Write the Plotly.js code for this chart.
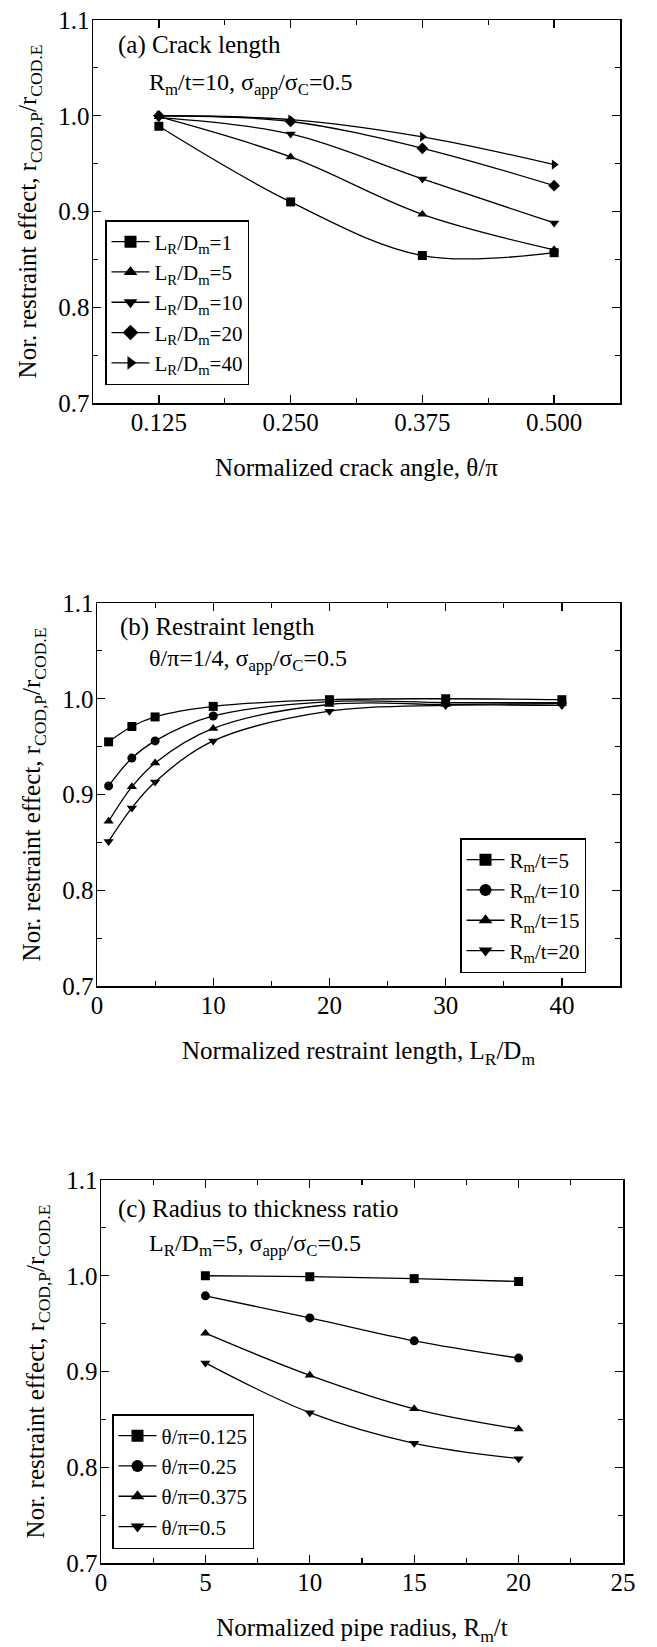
<!DOCTYPE html>
<html>
<head>
<meta charset="utf-8">
<script src="https://cdn.plot.ly/plotly-3.0.1.min.js"></script>
<style>
html,body{margin:0;padding:0;background:#fff;}
#chart{width:657px;height:1647px;}
</style>
</head>
<body>
<div id="chart"></div>
<script>
// ---------------- Panel (a): crack length ----------------
const crackAngle = [0.125, 0.25, 0.375, 0.5];
const aNames = ['L<sub>R</sub>/D<sub>m</sub>=1', 'L<sub>R</sub>/D<sub>m</sub>=5', 'L<sub>R</sub>/D<sub>m</sub>=10', 'L<sub>R</sub>/D<sub>m</sub>=20', 'L<sub>R</sub>/D<sub>m</sub>=40'];
const a_LR1  = [0.989, 0.910, 0.854, 0.857];
const a_LR5  = [0.999, 0.957, 0.897, 0.860];
const a_LR10 = [0.998, 0.981, 0.934, 0.888];
const a_LR20 = [1.000, 0.994, 0.966, 0.927];
const a_LR40 = [1.000, 0.996, 0.978, 0.949];

// ---------------- Panel (b): restraint length ----------------
const restraintLength = [1, 3, 5, 10, 20, 30, 40];
const bNames = ['R<sub>m</sub>/t=5', 'R<sub>m</sub>/t=10', 'R<sub>m</sub>/t=15', 'R<sub>m</sub>/t=20'];
const b_Rt5  = [0.955, 0.971, 0.981, 0.992, 0.999, 1.000, 0.999];
const b_Rt10 = [0.909, 0.938, 0.956, 0.982, 0.997, 0.996, 0.996];
const b_Rt15 = [0.872, 0.908, 0.933, 0.969, 0.994, 0.994, 0.995];
const b_Rt20 = [0.851, 0.886, 0.913, 0.956, 0.987, 0.993, 0.993];

// ---------------- Panel (c): radius to thickness ----------------
const pipeRadius = [5, 10, 15, 20];
const cNames = ['θ/π=0.125', 'θ/π=0.25', 'θ/π=0.375', 'θ/π=0.5'];
const c_th0125 = [1.000, 0.999, 0.997, 0.994];
const c_th025  = [0.979, 0.956, 0.932, 0.914];
const c_th0375 = [0.940, 0.896, 0.861, 0.840];
const c_th05   = [0.909, 0.857, 0.825, 0.809];

const FONT = 'Liberation Serif, "Times New Roman", Times, serif';
const W = 657, H = 1647;
const px = v => v / W;
const py = v => 1 - v / H;

function series(x, y, name, symbol, xa, ya, lg) {
  return [{
    type: 'scatter', mode: 'lines+markers', x: x, y: y, name: name,
    xaxis: xa, yaxis: ya, showlegend: false, hoverinfo: 'skip',
    line: {color: '#000', width: 1.3, shape: 'spline', smoothing: 1},
    marker: {symbol: symbol, size: 9, color: '#000', line: {width: 0}}
  }, {
    // legend sample (no data points of its own)
    type: 'scatter', mode: 'lines+markers', x: [null], y: [null], name: name,
    xaxis: xa, yaxis: ya, legend: lg, showlegend: true, hoverinfo: 'skip',
    line: {color: '#000', width: 1.3},
    marker: {symbol: symbol, size: 12, color: '#000', line: {width: 0}}
  }];
}

const aSyms = ['square', 'triangle-up', 'triangle-down', 'diamond', 'triangle-right'];
const aData = [a_LR1, a_LR5, a_LR10, a_LR20, a_LR40];
const bSyms = ['square', 'circle', 'triangle-up', 'triangle-down'];
const bData = [b_Rt5, b_Rt10, b_Rt15, b_Rt20];
const cSyms = ['square', 'circle', 'triangle-up', 'triangle-down'];
const cData = [c_th0125, c_th025, c_th0375, c_th05];

let data = [];
aData.forEach((y, i) => { data = data.concat(series(crackAngle, y, aNames[i], aSyms[i], 'x', 'y', 'legend')); });
bData.forEach((y, i) => { data = data.concat(series(restraintLength, y, bNames[i], bSyms[i], 'x2', 'y2', 'legend2')); });
cData.forEach((y, i) => { data = data.concat(series(pipeRadius, y, cNames[i], cSyms[i], 'x3', 'y3', 'legend3')); });

const tickFont = {family: FONT, size: 25, color: '#000'};
const titleFont = {family: FONT, size: 25, color: '#000'};

function xAxis(domain, range, tick0, dtick, minorDtick, fmt, title, anchor) {
  return {
    domain: domain, range: range, anchor: anchor, tick0: tick0, dtick: dtick, tickformat: fmt,
    showline: true, linecolor: '#000', linewidth: 1.5, mirror: 'allticks',
    ticks: 'inside', ticklen: 8, tickwidth: 1.3, tickcolor: '#000', ticklabelstandoff: -4,
    minor: {ticks: 'inside', ticklen: 5, tickwidth: 1.2, tickcolor: '#000', dtick: minorDtick, showgrid: false},
    showgrid: false, zeroline: false, tickfont: tickFont, fixedrange: true,
    title: {text: title, font: titleFont, standoff: 24}
  };
}
function yAxis(domain, anchor) {
  return {
    domain: domain, range: [0.7, 1.1], anchor: anchor, tick0: 0.7, dtick: 0.1, tickformat: '.1f',
    showline: true, linecolor: '#000', linewidth: 1.5, mirror: 'allticks',
    ticks: 'inside', ticklen: 8, tickwidth: 1.3, tickcolor: '#000', ticklabelstandoff: -3,
    minor: {ticks: 'inside', ticklen: 5, tickwidth: 1.2, tickcolor: '#000', dtick: 0.05, showgrid: false},
    showgrid: false, zeroline: false, tickfont: tickFont, fixedrange: true,
    title: {text: 'Nor. restraint effect, r<sub>COD,P</sub>/r<sub>COD.E</sub>', font: titleFont, standoff: 14}
  };
}

function legendBox(x, y, fs) {
  return {
    x: px(x), y: py(y), xref: 'paper', yref: 'paper', xanchor: 'left', yanchor: 'top',
    bgcolor: '#fff', bordercolor: '#000', borderwidth: 1.5, itemwidth: 38,
    font: {family: FONT, size: fs, color: '#000'}, itemclick: false, itemdoubleclick: false,
    traceorder: 'normal', tracegroupgap: 0
  };
}

function ann(text, x, y, size) {
  return {text: text, x: px(x), y: py(y), xref: 'paper', yref: 'paper', xanchor: 'left', yanchor: 'middle',
          showarrow: false, font: {family: FONT, size: size, color: '#000'}};
}

const layout = {
  width: W, height: H, margin: {l: 0, r: 0, t: 0, b: 0},
  paper_bgcolor: '#fff', plot_bgcolor: '#fff', showlegend: true, hovermode: false,
  font: {family: FONT, color: '#000'},
  xaxis: xAxis([px(93), px(620)], [0.0625, 0.5625], 0.125, 0.125, 0.0625, '.3f', 'Normalized crack angle, θ/π', 'y'),
  yaxis: yAxis([py(403), py(20)], 'x'),
  xaxis2: xAxis([px(97), px(620)], [0, 45], 0, 10, 5, 'd', 'Normalized restraint length, L<sub>R</sub>/D<sub>m</sub>', 'y2'),
  yaxis2: yAxis([py(986), py(603)], 'x2'),
  xaxis3: xAxis([px(101), px(623)], [0, 25], 0, 5, 2.5, 'd', 'Normalized pipe radius, R<sub>m</sub>/t', 'y3'),
  yaxis3: yAxis([py(1563), py(1180)], 'x3'),
  legend: legendBox(105, 220, 21),
  legend2: legendBox(460, 838, 21),
  legend3: legendBox(112, 1414, 21),
  annotations: [
    ann('(a) Crack length', 116, 45, 25),
    ann('R<sub>m</sub>/t=10, σ<sub>app</sub>/σ<sub>C</sub>=0.5', 147, 84, 24),
    ann('(b) Restraint length', 118, 627, 25),
    ann('θ/π=1/4, σ<sub>app</sub>/σ<sub>C</sub>=0.5', 147, 660, 24),
    ann('(c) Radius to thickness ratio', 116, 1209, 25),
    ann('L<sub>R</sub>/D<sub>m</sub>=5, σ<sub>app</sub>/σ<sub>C</sub>=0.5', 147, 1245, 24)
  ]
};

Plotly.newPlot('chart', data, layout, {staticPlot: true, displayModeBar: false});
</script>
</body>
</html>
